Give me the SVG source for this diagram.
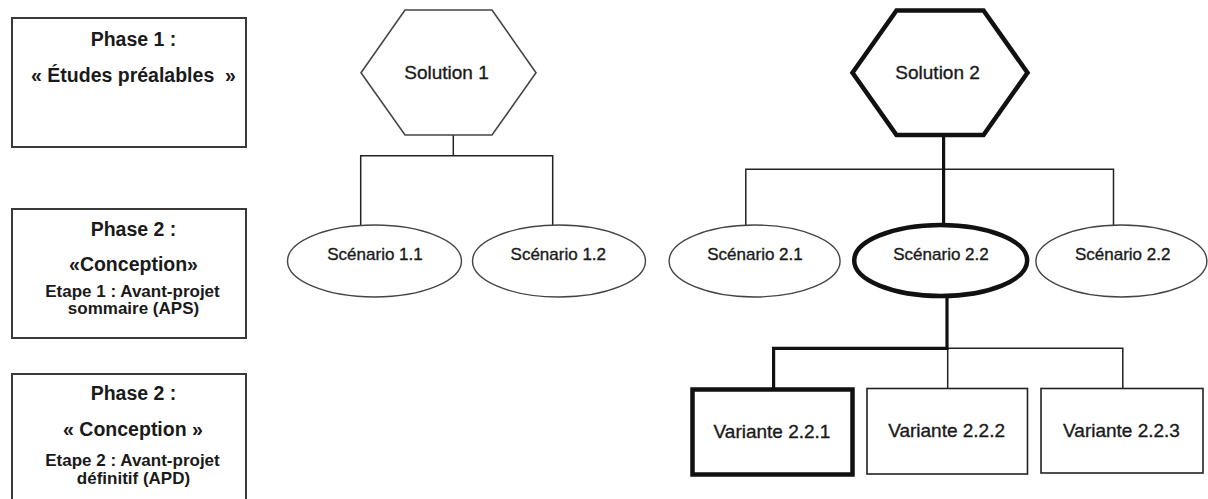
<svg xmlns="http://www.w3.org/2000/svg" width="1208" height="499" viewBox="0 0 1208 499">
  <style>
    .bg { fill: #ffffff; }
    .phase { fill: #ffffff; stroke: #3a3a3a; stroke-width: 2; }
    .hex { fill: #ffffff; stroke: #444444; stroke-width: 1.6; }
    .hex-bold { fill: #ffffff; stroke: #111111; stroke-width: 4.5; stroke-linejoin: miter; }
    .ell { fill: #ffffff; stroke: #444444; stroke-width: 1.4; }
    .ell-bold { fill: #ffffff; stroke: #111111; stroke-width: 4.5; }
    .box { fill: #ffffff; stroke: #222222; stroke-width: 1.6; }
    .box-bold { fill: #ffffff; stroke: #111111; stroke-width: 4.5; }
    .thin { stroke: #222222; stroke-width: 1.5; fill: none; }
    .thick { stroke: #111111; stroke-width: 3.2; fill: none; stroke-linecap: square; }
    text { font-family: "Liberation Sans", Arial, sans-serif; fill: #1a1a1a; text-anchor: middle; }
    .t-head { font-size: 19.5px; font-weight: bold; }
    .t-sub { font-size: 17px; font-weight: bold; }
    .t-node { font-size: 19px; stroke: #1a1a1a; stroke-width: 0.35; }
    .t-scen { font-size: 17px; stroke: #1a1a1a; stroke-width: 0.35; }
  </style>

  <rect class="bg" x="0" y="0" width="1208" height="499"/>

  <!-- Phase legend boxes -->
  <g id="phase1">
    <rect class="phase" x="12" y="18" width="234" height="129"/>
    <text class="t-head" x="133.5" y="46">Phase 1 :</text>
    <text class="t-head" x="133.5" y="82">« Études préalables&#160; »</text>
  </g>
  <g id="phase2-aps">
    <rect class="phase" x="12" y="209" width="234" height="129"/>
    <text class="t-head" x="133.5" y="235.5">Phase 2 :</text>
    <text class="t-head" x="133.5" y="270.5">«Conception»</text>
    <text class="t-sub" x="132.5" y="297">Etape 1 : Avant-projet</text>
    <text class="t-sub" x="133.5" y="314">sommaire (APS)</text>
  </g>
  <g id="phase2-apd">
    <rect class="phase" x="12" y="374" width="234" height="200"/>
    <text class="t-head" x="133.5" y="400">Phase 2 :</text>
    <text class="t-head" x="133" y="436">« Conception »</text>
    <text class="t-sub" x="132.5" y="466">Etape 2 : Avant-projet</text>
    <text class="t-sub" x="133.5" y="484">définitif (APD)</text>
  </g>

  <!-- Connectors -->
  <g id="connectors">
    <!-- Solution 1 to its scenarios -->
    <polyline class="thin" points="453.3,135 453.3,155.7"/>
    <polyline class="thin" points="360.7,226 360.7,155.7 552.7,155.7 552.7,226"/>
    <!-- Solution 2 to its scenarios -->
    <polyline class="thin" points="745.8,226 745.8,169.3 1113.5,169.3 1113.5,226"/>
    <line class="thick" x1="943.6" y1="137" x2="943.6" y2="224"/>
    <!-- Scenario 2.2 to its variants -->
    <polyline class="thin" points="947.5,348.3 1122.8,348.3 1122.8,388.5"/>
    <line class="thin" x1="947.7" y1="348.3" x2="947.7" y2="388.5"/>
    <polyline class="thick" points="947,299 947,348.3 773.6,348.3 773.6,387"/>
  </g>

  <!-- Solutions -->
  <g id="solution1">
    <polygon class="hex" points="405,10 492,10 536,72.7 492,135 405,135 361,72.7"/>
    <text class="t-node" x="446.5" y="79">Solution 1</text>
  </g>
  <g id="solution2">
    <polygon class="hex-bold" points="896.5,10.5 983.5,10.5 1027.5,72.7 983.5,135 896.5,135 852.5,72.7"/>
    <text class="t-node" x="937.6" y="79">Solution 2</text>
  </g>

  <!-- Scenarios -->
  <g id="scenario1-1">
    <ellipse class="ell" cx="374.5" cy="261" rx="87" ry="36"/>
    <text class="t-scen" x="375" y="260">Scénario 1.1</text>
  </g>
  <g id="scenario1-2">
    <ellipse class="ell" cx="559" cy="261" rx="86.5" ry="36"/>
    <text class="t-scen" x="558.3" y="260">Scénario 1.2</text>
  </g>
  <g id="scenario2-1">
    <ellipse class="ell" cx="754.6" cy="261" rx="85.5" ry="36"/>
    <text class="t-scen" x="755" y="259.5">Scénario 2.1</text>
  </g>
  <g id="scenario2-2">
    <ellipse class="ell-bold" cx="940.7" cy="260.5" rx="86.5" ry="35.5"/>
    <text class="t-scen" x="941" y="259.5">Scénario 2.2</text>
  </g>
  <g id="scenario2-3">
    <ellipse class="ell" cx="1121.4" cy="261" rx="85.5" ry="36"/>
    <text class="t-scen" x="1122.7" y="259.5">Scénario 2.2</text>
  </g>

  <!-- Variants -->
  <g id="variant2-2-1">
    <rect class="box-bold" x="692.5" y="389.5" width="160" height="85"/>
    <text class="t-node" x="772" y="438">Variante 2.2.1</text>
  </g>
  <g id="variant2-2-2">
    <rect class="box" x="867" y="388.5" width="160.5" height="85.5"/>
    <text class="t-node" x="946.6" y="437">Variante 2.2.2</text>
  </g>
  <g id="variant2-2-3">
    <rect class="box" x="1041" y="388.5" width="162" height="84.5"/>
    <text class="t-node" x="1121.5" y="436.5">Variante 2.2.3</text>
  </g>
</svg>
